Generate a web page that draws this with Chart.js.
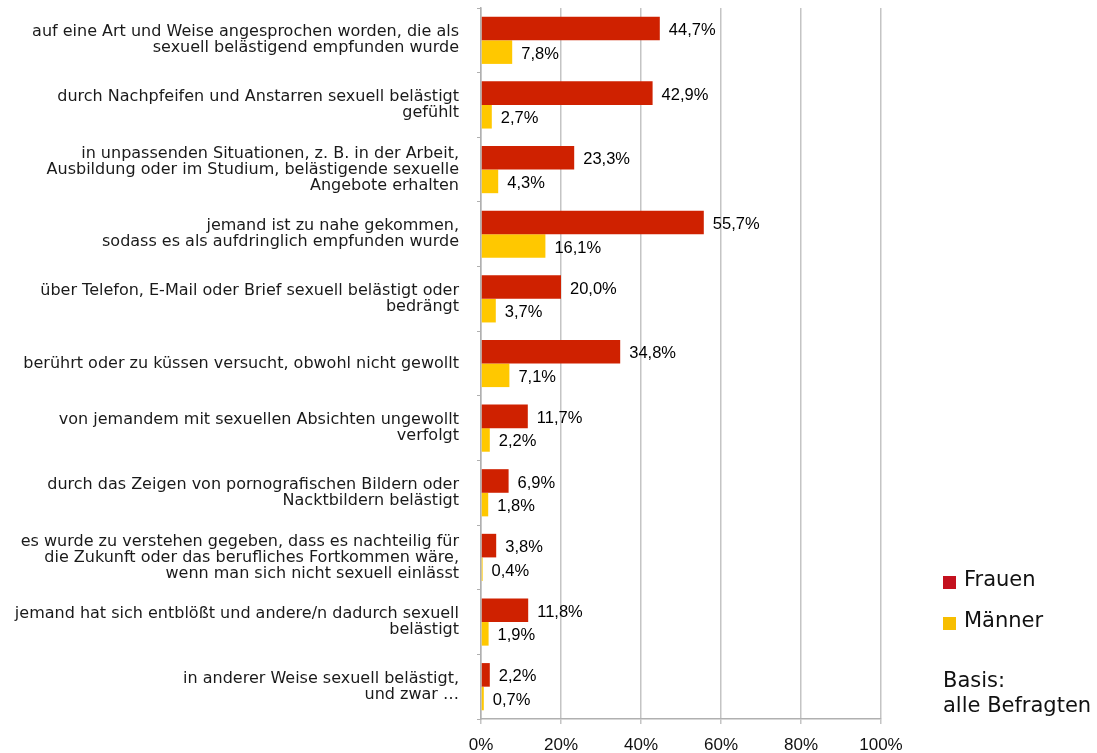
<!DOCTYPE html>
<html>
<head>
<meta charset="utf-8">
<script src="https://cdn.jsdelivr.net/npm/chart.js@4/dist/chart.umd.min.js"></script>
<style>
  html,body{margin:0;padding:0;background:#fff;}
  #wrap{width:1097px;height:753px;position:relative;}
</style>
</head>
<body>
<div id="wrap"><canvas id="chart" width="1097" height="753"></canvas></div>
<script>
// Kategorien (mehrzeilig wie im Original)
const kategorien=[
  ['auf eine Art und Weise angesprochen worden, die als','sexuell belästigend empfunden wurde'],
  ['durch Nachpfeifen und Anstarren sexuell belästigt','gefühlt'],
  ['in unpassenden Situationen, z. B. in der Arbeit,','Ausbildung oder im Studium, belästigende sexuelle','Angebote erhalten'],
  ['jemand ist zu nahe gekommen,','sodass es als aufdringlich empfunden wurde'],
  ['über Telefon, E-Mail oder Brief sexuell belästigt oder','bedrängt'],
  'berührt oder zu küssen versucht, obwohl nicht gewollt',
  ['von jemandem mit sexuellen Absichten ungewollt','verfolgt'],
  ['durch das Zeigen von pornografischen Bildern oder','Nacktbildern belästigt'],
  ['es wurde zu verstehen gegeben, dass es nachteilig für','die Zukunft oder das berufliches Fortkommen wäre,','wenn man sich nicht sexuell einlässt'],
  ['jemand hat sich entblößt und andere/n dadurch sexuell','belästigt'],
  ['in anderer Weise sexuell belästigt,','und zwar …']
];
const frauen=[44.7,42.9,23.3,55.7,20.0,34.8,11.7,6.9,3.8,11.8,2.2];
const maenner=[7.8,2.7,4.3,16.1,3.7,7.1,2.2,1.8,0.4,1.9,0.7];
const xTicks=[0,20,40,60,80,100];

const ROT='#CF2100', GELB='#FFC800';
const fmt=v=>v.toFixed(1).replace('.',',')+'%';

// Werte rechts neben den Balken
const wertLabels={
  id:'wertLabels',
  afterDatasetsDraw(chart){
    const c=chart.ctx;
    c.save();
    c.font='16.5px "Liberation Sans", Arial, sans-serif';
    c.fillStyle='#000';
    c.textBaseline='middle';
    c.textAlign='left';
    chart.data.datasets.forEach((ds,i)=>{
      chart.getDatasetMeta(i).data.forEach((bar,j)=>{
        c.fillText(fmt(ds.data[j]),bar.x+9,bar.y+2);
      });
    });
    c.restore();
  }
};

// Legende + Basis-Hinweis rechts unten
const legende={
  id:'legende',
  afterDraw(chart){
    const c=chart.ctx;
    c.save();
    c.font='21px "DejaVu Sans", Verdana, sans-serif';
    c.textBaseline='middle';
    c.fillStyle='#C4111E'; c.fillRect(943,576,13,13);
    c.fillStyle='#F7BE00'; c.fillRect(943,617,13,13);
    c.fillStyle='#111';
    c.fillText('Frauen',964,581);
    c.fillText('Männer',964,622);
    c.fillText('Basis:',943,682);
    c.fillText('alle Befragten',943,707);
    c.restore();
  }
};

new Chart(document.getElementById('chart'),{
  type:'bar',
  data:{
    labels:kategorien,
    datasets:[
      {label:'Frauen',data:frauen,backgroundColor:ROT,categoryPercentage:0.73,barPercentage:1},
      {label:'Männer',data:maenner,backgroundColor:GELB,categoryPercentage:0.73,barPercentage:1}
    ]
  },
  options:{
    indexAxis:'y',
    responsive:false,
    animation:false,
    layout:{padding:{top:8,right:216,left:0,bottom:0}},
    plugins:{legend:{display:false},tooltip:{enabled:false}},
    scales:{
      x:{
        min:0,max:100,
        afterBuildTicks:s=>{s.ticks=xTicks.map(v=>({value:v}));},
        afterFit:s=>{s.height=34;s.paddingLeft=0;s.paddingRight=0;},
        grid:{color:'#C4C4C4',lineWidth:1.5,tickLength:5},
        border:{color:'#B0B0B0',width:1.5},
        ticks:{callback:v=>v+'%',color:'#111',padding:11,
          font:{family:'"Liberation Sans", Arial, sans-serif',size:17}}
      },
      y:{
        afterFit:s=>{s.width=481;s.paddingTop=0;s.paddingBottom=0;},
        grid:{offset:true,drawOnChartArea:false,color:'#B0B0B0',tickLength:4},
        border:{color:'#B0B0B0',width:1.5},
        ticks:{color:'#1a1a1a',padding:18,autoSkip:false,
          font:{family:'"DejaVu Sans", Verdana, sans-serif',size:16,lineHeight:'16px'}}
      }
    }
  },
  plugins:[wertLabels,legende]
});
</script>
</body>
</html>
